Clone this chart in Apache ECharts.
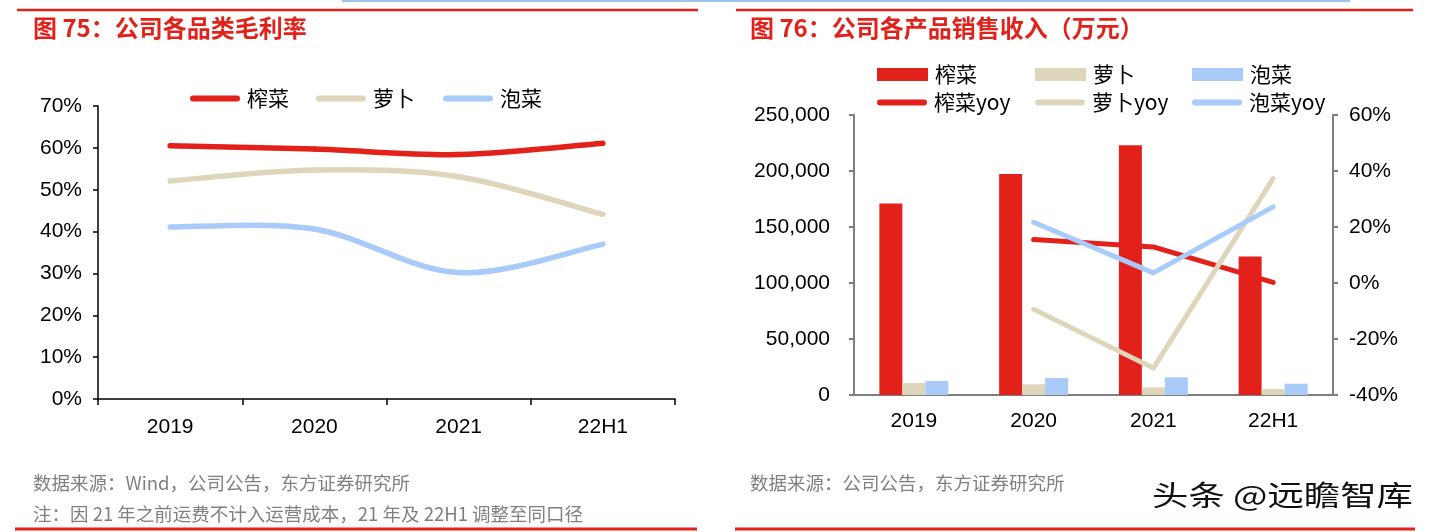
<!DOCTYPE html>
<html><head><meta charset="utf-8">
<script src="https://cdn.jsdelivr.net/npm/echarts@6/dist/echarts.min.js"></script>
<style>html,body{margin:0;padding:0;background:#fff}#c{width:1430px;height:532px}</style>
</head><body><div id="c"></div>
<script>
// ---- data ----
const categories = ['2019', '2020', '2021', '22H1'];
const marginZhacai = [60.5, 59.7, 58.4, 61.1];
const marginLuobo = [52.1, 54.7, 53.1, 44.1];
const marginPaocai = [41.1, 40.6, 30.2, 37.0];
const revZhacai = [170900, 197400, 223000, 123700];
const revLuobo = [10700, 9500, 6800, 5400];
const revPaocai = [12500, 15200, 15800, 10100];
const yoyZhacai = [null, 15.5, 12.9, 0.2];
const yoyLuobo = [null, -9.4, -30.4, 37.3];
const yoyPaocai = [null, 21.7, 3.6, 27.2];
const marginTicks = [0, 10, 20, 30, 40, 50, 60, 70];
const revTicks = [0, 50000, 100000, 150000, 200000, 250000];
const yoyTicks = [-40, -20, 0, 20, 40, 60];
const leftNames = ['榨菜', '萝卜', '泡菜'];
const rightBarNames = ['榨菜', '萝卜', '泡菜'];
const rightLineNames = ['榨菜yoy', '萝卜yoy', '泡菜yoy'];

const RED = '#E3211B', TAN = '#DED6BB', BLUE = '#A8CBFA';
const colors = [RED, TAN, BLUE];
const FONT = "'Liberation Sans','Noto Sans CJK SC',sans-serif";
const CJK = "'Noto Sans CJK SC','Liberation Sans',sans-serif";

function fmtThousands(v) { return String(v).replace(/\B(?=(\d{3})+(?!\d))/g, ','); }

const chart = echarts.init(document.getElementById('c'));

const legendLineIcon = 'path://M3,0 H47 A3,3 0 0 1 47,6 H3 A3,3 0 0 1 3,0 Z';
const legendText = { fontSize: 21, color: '#000', fontFamily: CJK, padding: [0, 0, 0, 2] };
const legends = [];
const leftLegendX = [190, 316, 443];
leftNames.forEach((n, i) => legends.push({
  data: [{ name: n, icon: legendLineIcon }], left: leftLegendX[i], top: 88, padding: 0, itemWidth: 50, itemHeight: 6,
  selectedMode: false, textStyle: legendText
}));
const rightLegendX = [877, 1035, 1192];
rightBarNames.forEach((n, i) => legends.push({
  data: [{ name: n, icon: 'rect' }], left: rightLegendX[i], top: 64, padding: 0, itemWidth: 51, itemHeight: 13,
  selectedMode: false, textStyle: legendText
}));
rightLineNames.forEach((n, i) => legends.push({
  data: [{ name: n, icon: legendLineIcon }], left: rightLegendX[i], top: 92, padding: 0, itemWidth: 50, itemHeight: 6,
  selectedMode: false, textStyle: legendText
}));

// Smoothed (Catmull-Rom style, like the spreadsheet's smoothed lines) curves,
// positioned through the chart's own axes via api.coord.
function smoothCurveSeries(name, values, color) {
  return {
    name: name, type: 'custom', coordinateSystem: 'cartesian2d', xAxisIndex: 0, yAxisIndex: 0,
    data: values.map((v, i) => [i, v]), encode: { x: 0, y: 1 },
    itemStyle: { color: color }, color: color, silent: true,
    renderItem: function (params, api) {
      if (params.dataIndex !== 0) return null;
      const pts = values.map((v, i) => api.coord([i, v]));
      const n = pts.length;
      const children = [];
      for (let i = 0; i < n - 1; i++) {
        const p0 = pts[Math.max(i - 1, 0)], p1 = pts[i], p2 = pts[i + 1], p3 = pts[Math.min(i + 2, n - 1)];
        children.push({
          type: 'bezierCurve',
          shape: {
            x1: p1[0], y1: p1[1], x2: p2[0], y2: p2[1],
            cpx1: p1[0] + (p2[0] - p0[0]) / 6, cpy1: p1[1] + (p2[1] - p0[1]) / 6,
            cpx2: p2[0] - (p3[0] - p1[0]) / 6, cpy2: p2[1] - (p3[1] - p1[1]) / 6
          },
          style: { stroke: color, lineWidth: 5.5, fill: null, lineCap: 'round', lineJoin: 'round' }
        });
      }
      return { type: 'group', children: children };
    }
  };
}

const leftLineSeries = [marginZhacai, marginLuobo, marginPaocai].map((d, i) => smoothCurveSeries(leftNames[i], d, colors[i]));
const rightBarSeries = [revZhacai, revLuobo, revPaocai].map((d, i) => ({
  name: rightBarNames[i], type: 'bar', xAxisIndex: 1, yAxisIndex: 1, data: d,
  barWidth: 23, barGap: '0%', color: colors[i], itemStyle: { color: colors[i] }
}));
const rightLineSeries = [yoyZhacai, yoyLuobo, yoyPaocai].map((d, i) => ({
  name: rightLineNames[i], type: 'line', xAxisIndex: 1, yAxisIndex: 2, data: d,
  showSymbol: false, symbol: 'none', color: colors[i], connectNulls: false,
  lineStyle: { width: 5, color: colors[i], cap: 'round', join: 'round' }
}));

const axisLabelBase = { fontSize: 21, color: '#000', fontFamily: FONT };

chart.setOption({
  backgroundColor: '#fff',
  animation: false,
  legend: legends,
  grid: [
    { left: 98, top: 106, width: 577, height: 293 },
    { left: 854, top: 115, width: 479, height: 280 }
  ],
  xAxis: [
    { type: 'category', gridIndex: 0, data: categories, boundaryGap: true,
      axisLine: { lineStyle: { color: '#000', width: 1.5 } },
      axisTick: { show: true, length: 6, lineStyle: { color: '#000', width: 1.5 } },
      axisLabel: Object.assign({}, axisLabelBase, { margin: 18 }) },
    { type: 'category', gridIndex: 1, data: categories, boundaryGap: true,
      axisLine: { lineStyle: { color: '#7F7F7F', width: 2 } },
      axisTick: { show: false },
      axisLabel: Object.assign({}, axisLabelBase, { margin: 16 }) }
  ],
  yAxis: [
    { type: 'value', gridIndex: 0, min: marginTicks[0], max: marginTicks[marginTicks.length - 1], interval: marginTicks[1] - marginTicks[0],
      axisLine: { show: true, lineStyle: { color: '#000', width: 1.5 } },
      axisTick: { show: true, length: 5, lineStyle: { color: '#000', width: 1.5 } },
      splitLine: { show: false },
      axisLabel: Object.assign({}, axisLabelBase, { margin: 16, formatter: v => v + '%' }) },
    { type: 'value', gridIndex: 1, min: revTicks[0], max: revTicks[revTicks.length - 1], interval: revTicks[1] - revTicks[0],
      axisLine: { show: true, lineStyle: { color: '#7F7F7F', width: 2 } },
      axisTick: { show: true, length: 5, lineStyle: { color: '#7F7F7F', width: 2 } },
      splitLine: { show: false },
      axisLabel: Object.assign({}, axisLabelBase, { margin: 24, formatter: v => fmtThousands(v) }) },
    { type: 'value', gridIndex: 1, position: 'right', min: yoyTicks[0], max: yoyTicks[yoyTicks.length - 1], interval: yoyTicks[1] - yoyTicks[0],
      axisLine: { show: true, lineStyle: { color: '#7F7F7F', width: 2 } },
      axisTick: { show: true, length: 5, lineStyle: { color: '#7F7F7F', width: 2 } },
      splitLine: { show: false },
      axisLabel: Object.assign({}, axisLabelBase, { margin: 16, formatter: v => v + '%' }) }
  ],
  series: [].concat(leftLineSeries, rightBarSeries, rightLineSeries),
  graphic: [
    { type: 'line', shape: { x1: 342, y1: 1, x2: 1350, y2: 1 }, style: { stroke: '#9DC3E6', lineWidth: 2 } },
    { type: 'line', shape: { x1: 17, y1: 10, x2: 698, y2: 10 }, style: { stroke: RED, lineWidth: 2.5 } },
    { type: 'line', shape: { x1: 736, y1: 10, x2: 1413, y2: 10 }, style: { stroke: RED, lineWidth: 2.5 } },
    { type: 'text', x: 33, y: 28, style: { text: '图 75：公司各品类毛利率', fill: RED, font: 'bold 24px ' + CJK, verticalAlign: 'middle' } },
    { type: 'text', x: 750, y: 28, style: { text: '图 76：公司各产品销售收入（万元）', fill: RED, font: 'bold 24px ' + CJK, verticalAlign: 'middle' } },
    { type: 'text', x: 33, y: 483, style: { text: '数据来源：Wind，公司公告，东方证券研究所', fill: '#808080', font: '18.5px ' + CJK, verticalAlign: 'middle' } },
    { type: 'text', x: 33, y: 514, style: { text: '注：因 21 年之前运费不计入运营成本，21 年及 22H1 调整至同口径', fill: '#808080', font: '18.5px ' + CJK, verticalAlign: 'middle' } },
    { type: 'text', x: 750, y: 483, style: { text: '数据来源：公司公告，东方证券研究所', fill: '#808080', font: '18.5px ' + CJK, verticalAlign: 'middle' } },
    { type: 'text', x: 1152, y: 495, scaleX: 1.3, style: { text: '头条 @远瞻智库', fill: '#111', font: '28px ' + CJK, verticalAlign: 'middle' } },
    { type: 'line', shape: { x1: 15, y1: 529, x2: 697, y2: 529 }, style: { stroke: RED, lineWidth: 3 } },
    { type: 'line', shape: { x1: 735, y1: 529, x2: 1415, y2: 529 }, style: { stroke: RED, lineWidth: 3 } }
  ]
});
</script>
</body></html>
